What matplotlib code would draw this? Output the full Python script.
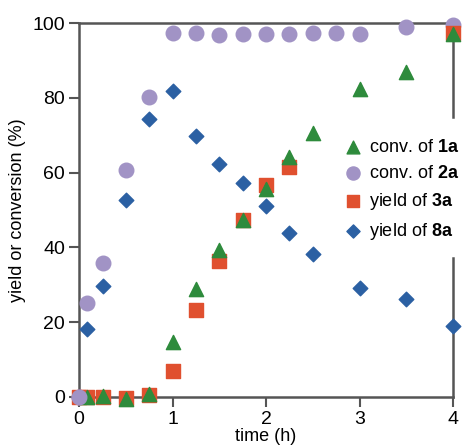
import matplotlib.pyplot as plt

plt.rcParams['font.family'] = ['Liberation Sans', 'DejaVu Sans']
plt.rcParams['mathtext.fontset'] = 'custom'
plt.rcParams['mathtext.bf'] = 'Liberation Sans:bold'
plt.rcParams['mathtext.rm'] = 'Liberation Sans'

# conversion of 2a (circles)
t_2a = [0, 0.083, 0.25, 0.5, 0.75, 1, 1.25, 1.5, 1.75, 2, 2.25, 2.5, 2.75, 3, 3.5, 4]
conv_2a = [0, 25, 35.7, 60.6, 80.3, 97.4, 97.4, 96.9, 97.1, 97.1, 97.1, 97.3, 97.3, 97.1, 98.9, 99.5]

# yield of 8a (diamonds)
t_8a = [0, 0.083, 0.25, 0.5, 0.75, 1, 1.25, 1.5, 1.75, 2, 2.25, 2.5, 3, 3.5, 4]
yield_8a = [0, 18.3, 29.6, 52.6, 74.4, 81.7, 69.7, 62.4, 57.1, 51.1, 43.9, 38.3, 29.2, 26.2, 18.9]

# yield of 3a (squares)
t_3a = [0, 0.083, 0.25, 0.5, 0.75, 1, 1.25, 1.5, 1.75, 2, 2.25, 4]
yield_3a = [0, 0, 0, -0.2, 0.4, 7.0, 23.3, 36.4, 47.2, 56.6, 61.4, 97.2]

# conversion of 1a (triangles)
t_1a = [0.083, 0.25, 0.5, 0.75, 1, 1.25, 1.5, 1.75, 2, 2.25, 2.5, 3, 3.5, 4]
conv_1a = [0, 0.3, -0.5, 0.7, 14.8, 28.9, 39.4, 47.3, 55.6, 64.2, 70.6, 82.3, 87.0, 97.0]

fig = plt.figure(figsize=(4.71, 4.47), dpi=100)
ax = fig.add_axes([0.168, 0.112, 0.794, 0.8365])

green = '#2e8b3c'
purple = '#a193c5'
red = '#e0502f'
blue = '#2b60a3'

ax.scatter(t_8a, yield_8a, marker='D', s=55, color=blue, label=r'yield of $\mathbf{8a}$', zorder=3, clip_on=False)
ax.scatter(t_3a, yield_3a, marker='s', s=95, color=red, label=r'yield of $\mathbf{3a}$', zorder=4, clip_on=False)
ax.scatter(t_1a, conv_1a, marker='^', s=105, color=green, label=r'conv. of $\mathbf{1a}$', zorder=5, clip_on=False)
ax.scatter(t_2a, conv_2a, marker='o', s=110, color=purple, label=r'conv. of $\mathbf{2a}$', zorder=2, clip_on=False)
# the t=0 circle sits on top of the other markers
ax.scatter(t_2a[:1], conv_2a[:1], marker='o', s=110, color=purple, zorder=6, clip_on=False)

ax.set_xlim(0, 4)
ax.set_ylim(0, 100)
ax.set_xticks([0, 1, 2, 3, 4])
ax.set_yticks([0, 20, 40, 60, 80, 100])
ax.tick_params(direction='out', length=7, width=1.5, color='#555555', labelsize=14, pad=3)
ax.set_xlabel('time (h)', fontsize=13, labelpad=0)
ax.set_ylabel('yield or conversion (%)', fontsize=13, labelpad=5)

for s in ['left', 'bottom', 'top']:
    ax.spines[s].set_color('#555555')
    ax.spines[s].set_linewidth(1.8)
    ax.spines[s].set_zorder(1)
ax.spines['right'].set_visible(False)
# broken right spine around the legend
ax.plot([1, 1], [0, 0.372], transform=ax.transAxes, color='#555555', lw=1.8, clip_on=False, zorder=1)
ax.plot([1, 1], [0.749, 1], transform=ax.transAxes, color='#555555', lw=1.8, clip_on=False, zorder=1)

handles, labels = ax.get_legend_handles_labels()
order = [2, 3, 1, 0]
ax.legend([handles[i] for i in order], [labels[i] for i in order],
          loc='center left', bbox_to_anchor=(0.68, 0.553), frameon=False,
          fontsize=13, handletextpad=0.25, labelspacing=0.5, borderpad=0,
          handlelength=1.2, scatterpoints=1, markerscale=0.9)

fig.savefig('out.png', dpi=100)
